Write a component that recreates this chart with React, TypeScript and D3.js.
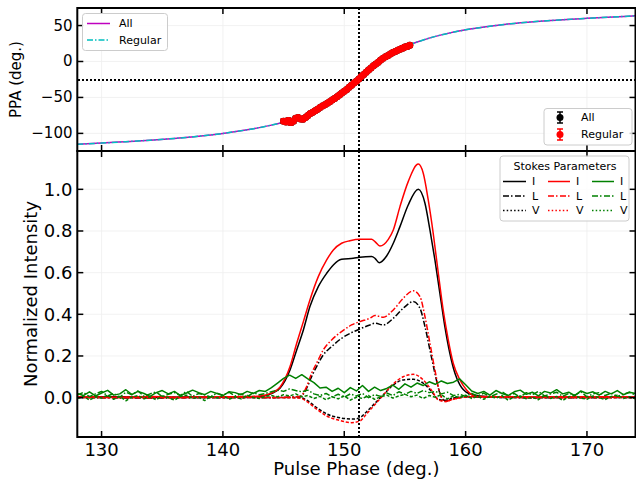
import React from 'react';
import * as d3 from 'd3';

// ---------- axes / ticks ----------
const X_DOMAIN: [number, number] = [128, 174];
const X_TICKS = [130, 140, 150, 160, 170];
const PPA_DOMAIN: [number, number] = [-124.5, 74.4];
const PPA_TICKS = [-100, -50, 0, 50];
const INT_DOMAIN: [number, number] = [-0.189, 1.184];
const INT_TICKS = [0.0, 0.2, 0.4, 0.6, 0.8, 1.0];
const REF_PHASE = 151.2;
const REF_PPA = -26;

// ---------- top panel: PPA ----------
const RVM_FIT_ALL: [number, number][] = [
  [128, -115], [130, -113.5], [132, -111.5], [134, -109.5], [136, -107], [138, -104],
  [140, -100], [142, -95], [143, -92], [144, -88.5], [145, -84.5], [146, -80],
  [147, -73.5], [148, -65], [149, -54], [150, -42], [151, -27.5], [152, -12],
  [153, 2], [154, 13], [155, 20.5], [156, 27], [157, 32.5], [158, 37], [160, 44],
  [162, 49], [164, 53], [167, 57], [170, 60], [174, 63.5],
];
const RVM_FIT_REGULAR: [number, number][] = [
  [128, -115], [130, -113.5], [132, -111.5], [134, -109.5], [136, -107], [138, -104],
  [140, -100], [142, -95], [143, -92], [144, -88.5], [145, -84.5], [146, -80],
  [147, -73.5], [148, -65], [149, -54], [150, -42], [151, -27.5], [152, -12],
  [153, 2], [154, 13], [155, 20.5], [156, 27], [157, 32.5], [158, 37], [160, 44],
  [162, 49], [164, 53], [167, 57], [170, 60], [174, 63.5],
];

const PPA_PHASE = [
  145.0, 145.2, 145.4, 145.6, 145.8, 146.0, 146.2, 146.4, 146.6, 146.8,
  147.0, 147.2, 147.4, 147.6, 147.8, 148.0, 148.2, 148.4, 148.6, 148.8,
  149.0, 149.2, 149.4, 149.6, 149.8, 150.0, 150.2, 150.4, 150.6, 150.8,
  151.0, 151.2, 151.4, 151.6, 151.8, 152.0, 152.2, 152.4, 152.6, 152.8,
  153.0, 153.2, 153.4, 153.6, 153.8, 154.0, 154.2, 154.4, 154.6, 154.8,
  155.0, 155.2, 155.4,
];
const PPA_VALUES = [
  -83, -84, -82, -85, -83, -79, -78, -80, -80.5, -78,
  -75, -72.5, -70.5, -68.5, -66.5, -64, -62, -60, -58, -56,
  -53.5, -51.5, -49, -46.5, -44, -41.5, -39, -36, -33, -30,
  -27.5, -24.5, -21, -18, -15, -12, -9, -6, -3.5, -1,
  2, 4.5, 6.5, 8.5, 10.5, 12.5, 14, 15.5, 17, 18.5,
  20, 21, 22.5,
];
const PPA_ERRORS = [
  3, 3, 3, 3, 3, 2.5, 2.5, 2.5, 2.5, 2.5,
  2, 2, 2, 2, 2, 2, 2, 2, 2, 2,
  1.5, 1.5, 1.5, 1.5, 1.5, 1.5, 1.5, 1.5, 1.5, 1.5,
  1.5, 1.5, 1.5, 1.5, 1.5, 1.5, 1.5, 1.5, 1.5, 1.5,
  1.5, 1.5, 1.5, 2, 2, 2, 2, 2, 2, 2.5,
  2.5, 2.5, 2.5,
];

// ---------- bottom panel: Stokes profiles ----------
const I_ALL: [number, number][] = [
  [128, 0.002], [131, 0.004], [134, 0.001], [137, 0.003], [140, 0.002], [142, 0.004],
  [143.06, 0.006], [144, 0.02], [144.7, 0.045], [145.53, 0.133], [146.08, 0.229],
  [146.63, 0.325], [147.17, 0.437], [147.86, 0.533], [148.55, 0.597], [149.1, 0.637],
  [149.78, 0.664], [150.74, 0.669], [151.29, 0.674], [152.25, 0.677], [152.53, 0.669],
  [152.88, 0.648], [153.49, 0.68], [154.04, 0.741], [154.59, 0.821], [155.27, 0.925],
  [156.1, 1.0], [156.65, 0.933], [157.06, 0.805], [157.47, 0.661], [157.88, 0.501],
  [158.29, 0.341], [158.7, 0.213], [159.12, 0.117], [159.53, 0.061], [160.22, 0.021],
  [161.17, 0.008], [163, 0.003], [166, 0.002], [170, 0.003], [174, 0.002],
];
const L_ALL: [number, number][] = [
  [128, 0.001], [134, -0.002], [140, 0.001], [144, 0.0], [146.35, 0.005], [146.9, 0.045],
  [147.31, 0.101], [147.72, 0.149], [148.27, 0.205], [148.96, 0.245], [149.78, 0.285],
  [150.6, 0.312], [151.29, 0.33], [152.11, 0.349], [152.53, 0.357], [153.22, 0.349],
  [154.04, 0.381], [154.86, 0.429], [155.69, 0.461], [156.24, 0.429], [156.65, 0.341],
  [157.06, 0.229], [157.47, 0.117], [157.88, 0.021], [158.29, -0.014], [158.98, -0.003],
  [160.08, 0.004], [163, 0.001], [168, -0.001], [174, 0.001],
];
const V_ALL: [number, number][] = [
  [128, 0.0], [134, 0.002], [140, -0.001], [144, 0.001], [146.35, 0.0], [146.9, -0.012],
  [147.72, -0.048], [148.55, -0.078], [149.64, -0.097], [150.74, -0.103], [151.29, -0.096],
  [151.84, -0.068], [152.53, -0.027], [153.22, 0.013], [154.04, 0.061], [154.86, 0.085],
  [155.69, 0.088], [156.51, 0.069], [157.2, 0.029], [157.75, -0.008], [158.29, -0.014],
  [158.98, -0.003], [160.08, 0.003], [165, 0.0], [174, 0.001],
];
const I_REG: [number, number][] = [
  [128, 0.004], [131, 0.002], [134, 0.005], [137, 0.002], [140, 0.004], [142, 0.005],
  [143.06, 0.008], [144, 0.022], [144.7, 0.05], [145.53, 0.149], [146.08, 0.261],
  [146.63, 0.365], [147.17, 0.469], [147.86, 0.581], [148.55, 0.661], [149.1, 0.709],
  [149.78, 0.741], [150.46, 0.753], [151.29, 0.76], [152.25, 0.76], [152.53, 0.749],
  [152.94, 0.728], [153.63, 0.76], [154.04, 0.805], [154.59, 0.917], [155.27, 1.037],
  [156.1, 1.121], [156.51, 1.077], [156.92, 0.949], [157.33, 0.789], [157.75, 0.597],
  [158.15, 0.421], [158.57, 0.277], [158.98, 0.165], [159.53, 0.085], [160.08, 0.037],
  [160.9, 0.005], [163, 0.004], [166, 0.003], [170, 0.004], [174, 0.003],
];
const L_REG: [number, number][] = [
  [128, 0.002], [134, 0.0], [140, 0.002], [144, 0.001], [146.35, 0.005], [146.9, 0.053],
  [147.31, 0.117], [147.72, 0.165], [148.27, 0.229], [148.96, 0.277], [149.78, 0.317],
  [150.6, 0.349], [151.29, 0.365], [152.11, 0.381], [152.53, 0.394], [153.22, 0.386],
  [154.04, 0.421], [154.86, 0.477], [155.69, 0.513], [156.24, 0.485], [156.65, 0.389],
  [157.06, 0.261], [157.47, 0.133], [157.88, 0.021], [158.29, -0.019], [158.98, -0.008],
  [160.08, 0.004], [163, 0.002], [168, 0.0], [174, 0.002],
];
const V_REG: [number, number][] = [
  [128, 0.001], [134, -0.001], [140, 0.001], [144, 0.0], [146.35, -0.002], [146.9, -0.018],
  [147.72, -0.055], [148.55, -0.088], [149.64, -0.11], [150.6, -0.12], [151.29, -0.112],
  [151.84, -0.078], [152.53, -0.033], [153.22, 0.013], [154.04, 0.066], [154.86, 0.1],
  [155.69, 0.112], [156.51, 0.085], [157.2, 0.035], [157.75, -0.011], [158.29, -0.019],
  [158.98, -0.008], [160.08, 0.003], [165, 0.001], [174, 0.0],
];

// third (green) profile, sampled every 0.5 deg from 128 deg
const G_PHASE_START = 128;
const G_PHASE_STEP = 0.5;
const I_OTHER = [
  0.020, 0.010, 0.028, 0.008, 0.022, 0.035, 0.012, 0.018, 0.038, 0.015,
  0.030, 0.020, 0.006, 0.024, 0.034, 0.018, 0.030, 0.010, 0.022, 0.036,
  0.024, 0.014, 0.030, 0.020, 0.010, 0.028, 0.024, 0.014, 0.030, 0.020,
  0.034,
  0.030, 0.048, 0.070, 0.092, 0.108, 0.092, 0.110, 0.090, 0.072, 0.046,
  0.050, 0.030, 0.045, 0.024, 0.048, 0.032, 0.058, 0.030, 0.050, 0.034,
  0.044, 0.060, 0.040, 0.066, 0.050, 0.070, 0.058, 0.076, 0.064, 0.080,
  0.068, 0.074, 0.090, 0.062, 0.032, 0.020,
  0.030, 0.012, 0.034, 0.020, 0.010, 0.028, 0.036, 0.016, 0.026, 0.008,
  0.030, 0.022, 0.038, 0.018, 0.026, 0.010, 0.032, 0.020, 0.028, 0.012,
  0.030, 0.018, 0.034, 0.014, 0.026, 0.020,
];
const L_OTHER = [
  0.012, 0.025, 0.005, 0.018, 0.030, 0.008, 0.020, 0.002, 0.026, 0.014,
  0.032, 0.006, 0.018, 0.028, 0.004, 0.016, 0.024, 0.010, 0.030, 0.006,
  0.020, 0.014, 0.002, 0.022, 0.012, 0.026, 0.008, 0.018, 0.004, 0.024,
  0.014,
  0.020, 0.028, 0.036, 0.030, 0.042, 0.034, 0.028, 0.036, 0.018, 0.010,
  0.020, 0.004, 0.016, 0.002, 0.018, 0.008, 0.020, 0.000, 0.014, 0.006,
  0.022, 0.010, 0.028, 0.016, 0.030, 0.020, 0.034, 0.024, 0.030, 0.018,
  0.026, 0.010, 0.016, 0.006, 0.020, 0.008,
  0.022, 0.004, 0.016, 0.028, 0.010, 0.020, 0.002, 0.024, 0.014, 0.030,
  0.008, 0.018, 0.026, 0.006, 0.020, 0.012, 0.028, 0.004, 0.018, 0.024,
  0.010, 0.022, 0.006, 0.016, 0.026, 0.012,
];
const V_OTHER = [
  -0.005, 0.008, -0.012, 0.004, -0.002, 0.012, -0.008, 0.006, -0.015, 0.002,
  0.010, -0.006, 0.004, -0.010, 0.008, 0.000, -0.012, 0.006, 0.012, -0.004,
  0.002, -0.014, 0.008, -0.002, 0.010, -0.008, 0.004, -0.006, 0.012, 0.000,
  -0.004,
  0.006, 0.010, 0.004, 0.014, 0.008, 0.018, 0.004, 0.010, -0.004, 0.006,
  -0.010, 0.004, -0.006, 0.008, -0.012, 0.002, -0.004, 0.010, -0.008, 0.004,
  0.012, -0.002, 0.008, 0.016, 0.004, 0.012, -0.004, 0.010, 0.002, 0.014,
  -0.006, 0.008, 0.000, 0.012, -0.004, 0.006,
  -0.008, 0.006, -0.002, 0.010, -0.012, 0.004, 0.008, -0.006, 0.002, -0.010,
  0.012, -0.004, 0.006, -0.014, 0.004, 0.010, -0.002, -0.008, 0.008, 0.000,
  -0.010, 0.006, 0.012, -0.004, 0.004, -0.006,
];

// ---------- layout ----------
const W = 636;
const H = 485;
const LEFT = 77.3;
const RIGHT = 635.5;
const TOP1 = 8;
const BOT1 = 151;
const TOP2 = 151;
const BOT2 = 437;
const FONT = 'DejaVu Sans, sans-serif';

const BLACK = '#000000';
const RED = '#ff0000';
const GREEN = '#008000';
const MAGENTA = '#bf00bf';
const CYAN = '#00bfbf';

const DASHDOT = '6,2,1.5,2';
const DOTTED_V = '3.2,1.8';
const DOTTED_REF = '2,2';

export default function App() {
  const x = d3.scaleLinear().domain(X_DOMAIN).range([LEFT, RIGHT]);
  const yP = d3.scaleLinear().domain(PPA_DOMAIN).range([BOT1, TOP1]);
  const yI = d3.scaleLinear().domain(INT_DOMAIN).range([BOT2, TOP2]);

  const lineP = d3.line<[number, number]>().x(d => x(d[0])).y(d => yP(d[1])).curve(d3.curveMonotoneX);
  const lineI = d3.line<[number, number]>().x(d => x(d[0])).y(d => yI(d[1])).curve(d3.curveMonotoneX);
  const lineG = d3.line<[number, number]>().x(d => x(d[0])).y(d => yI(d[1]));

  const toPairs = (vals: number[]): [number, number][] =>
    vals.map((v, i) => [G_PHASE_START + i * G_PHASE_STEP, v]);

  const stokes = [
    { data: I_ALL, color: BLACK, dash: undefined as string | undefined },
    { data: L_ALL, color: BLACK, dash: DASHDOT },
    { data: V_ALL, color: BLACK, dash: DOTTED_V },
    { data: I_REG, color: RED, dash: undefined },
    { data: L_REG, color: RED, dash: DASHDOT },
    { data: V_REG, color: RED, dash: DOTTED_V },
  ];
  const others = [
    { data: toPairs(I_OTHER), dash: undefined as string | undefined },
    { data: toPairs(L_OTHER), dash: DASHDOT },
    { data: toPairs(V_OTHER), dash: DOTTED_V },
  ];

  const errPoints = (color: string, key: string) =>
    PPA_PHASE.map((p, i) => {
      const cx = x(p);
      const cy = yP(PPA_VALUES[i]);
      const y0 = yP(PPA_VALUES[i] - PPA_ERRORS[i]);
      const y1 = yP(PPA_VALUES[i] + PPA_ERRORS[i]);
      return (
        <g key={key + i}>
          <line x1={cx} x2={cx} y1={y0} y2={y1} stroke={color} strokeWidth={1.5} />
          <line x1={cx - 3} x2={cx + 3} y1={y0} y2={y0} stroke={color} strokeWidth={1.5} />
          <line x1={cx - 3} x2={cx + 3} y1={y1} y2={y1} stroke={color} strokeWidth={1.5} />
          <circle cx={cx} cy={cy} r={3.5} fill={color} />
        </g>
      );
    });

  const refY = Math.round(yP(REF_PPA));
  const refX = Math.round(x(REF_PHASE));

  const legendRows = [181.5, 196, 210.5];
  const legendCols = [
    { x0: 503, x1: 526, lx: 532, color: BLACK },
    { x0: 548, x1: 570, lx: 576, color: RED },
    { x0: 592, x1: 614, lx: 620, color: GREEN },
  ];
  const legendStyles = [
    { dash: undefined as string | undefined, label: 'I' },
    { dash: '6,2,1.5,2.5', label: 'L' },
    { dash: '1.5,2.2', label: 'V' },
  ];

  return (
    <svg width={W} height={H} style={{ position: 'absolute', left: 0, top: 0, background: '#fff' }}
      fontFamily={FONT}>
      <defs>
        <clipPath id="clipTop"><rect x={LEFT} y={TOP1} width={RIGHT - LEFT} height={BOT1 - TOP1} /></clipPath>
        <clipPath id="clipBot"><rect x={LEFT} y={TOP2} width={RIGHT - LEFT} height={BOT2 - TOP2} /></clipPath>
      </defs>
      <rect x={0} y={0} width={W} height={H} fill="#fff" />

      {/* grids */}
      <g stroke="#efefef" strokeWidth={0.8}>
        {X_TICKS.map(t => <line key={'gx1' + t} x1={x(t)} x2={x(t)} y1={TOP1} y2={BOT1} />)}
        {X_TICKS.map(t => <line key={'gx2' + t} x1={x(t)} x2={x(t)} y1={TOP2} y2={BOT2} />)}
        {PPA_TICKS.map(t => <line key={'gp' + t} x1={LEFT} x2={RIGHT} y1={yP(t)} y2={yP(t)} />)}
        {INT_TICKS.map(t => <line key={'gi' + t} x1={LEFT} x2={RIGHT} y1={yI(t)} y2={yI(t)} />)}
      </g>

      {/* top panel */}
      <g clipPath="url(#clipTop)">
        <line x1={78} x2={RIGHT} y1={refY} y2={refY} stroke={BLACK} strokeWidth={2} strokeDasharray={DOTTED_REF} shapeRendering="crispEdges" />
        <line x1={refX} x2={refX} y1={TOP1} y2={BOT1} stroke={BLACK} strokeWidth={2} strokeDasharray={DOTTED_REF} shapeRendering="crispEdges" />
        <path d={lineP(RVM_FIT_ALL) || ''} fill="none" stroke={MAGENTA} strokeWidth={1.5} />
        <path d={lineP(RVM_FIT_REGULAR) || ''} fill="none" stroke={CYAN} strokeWidth={1.5} strokeDasharray={DASHDOT} />
        {errPoints(BLACK, 'a')}
        {errPoints(RED, 'r')}
      </g>

      {/* bottom panel */}
      <g clipPath="url(#clipBot)">
        <line x1={refX} x2={refX} y1={TOP2} y2={BOT2} stroke={BLACK} strokeWidth={2} strokeDasharray={DOTTED_REF} shapeRendering="crispEdges" />
        {stokes.map((s, i) => (
          <path key={'s' + i} d={lineI(s.data) || ''} fill="none" stroke={s.color} strokeWidth={1.5}
            strokeDasharray={s.dash} />
        ))}
        {others.map((s, i) => (
          <path key={'o' + i} d={lineG(s.data) || ''} fill="none" stroke={GREEN} strokeWidth={1.5}
            strokeDasharray={s.dash} strokeLinejoin="round" />
        ))}
      </g>

      {/* ticks */}
      <g stroke={BLACK} strokeWidth={1.5}>
        {X_TICKS.map(t => (
          <g key={'tx' + t}>
            <line x1={x(t)} x2={x(t)} y1={TOP1} y2={TOP1 + 6} />
            <line x1={x(t)} x2={x(t)} y1={BOT1} y2={BOT1 - 6} />
            <line x1={x(t)} x2={x(t)} y1={TOP2} y2={TOP2 + 6} />
            <line x1={x(t)} x2={x(t)} y1={BOT2} y2={BOT2 - 6} />
          </g>
        ))}
        {PPA_TICKS.map(t => (
          <g key={'tp' + t}>
            <line x1={LEFT} x2={LEFT + 6} y1={yP(t)} y2={yP(t)} />
            <line x1={RIGHT} x2={RIGHT - 6} y1={yP(t)} y2={yP(t)} />
          </g>
        ))}
        {INT_TICKS.map(t => (
          <g key={'ti' + t}>
            <line x1={LEFT} x2={LEFT + 6} y1={yI(t)} y2={yI(t)} />
            <line x1={RIGHT} x2={RIGHT - 6} y1={yI(t)} y2={yI(t)} />
          </g>
        ))}
      </g>

      {/* frames */}
      <rect x={LEFT} y={TOP1} width={RIGHT - LEFT} height={BOT1 - TOP1} fill="none" stroke={BLACK} strokeWidth={2} />
      <rect x={LEFT} y={TOP2} width={RIGHT - LEFT} height={BOT2 - TOP2} fill="none" stroke={BLACK} strokeWidth={2} />

      {/* tick labels */}
      <g fill={BLACK}>
        {PPA_TICKS.map(t => (
          <text key={'lp' + t} x={72.5} y={yP(t)} fontSize={15} textAnchor="end" dominantBaseline="central">
            {t < 0 ? '\u2212' + Math.abs(t) : String(t)}
          </text>
        ))}
        {INT_TICKS.map(t => (
          <text key={'li' + t} x={72.5} y={yI(t)} fontSize={18} textAnchor="end" dominantBaseline="central">
            {t.toFixed(1)}
          </text>
        ))}
        {X_TICKS.map(t => (
          <text key={'lx' + t} x={x(t)} y={456} fontSize={18} textAnchor="middle">{t}</text>
        ))}
        <text x={(LEFT + RIGHT) / 2} y={475} fontSize={18} textAnchor="middle">Pulse Phase (deg.)</text>
        <text transform={`translate(30,${(TOP2 + BOT2) / 2}) rotate(-90)`} fontSize={18} textAnchor="middle"
          dominantBaseline="central">Normalized Intensity</text>
        <text transform={`translate(16,${(TOP1 + BOT1) / 2}) rotate(-90)`} fontSize={15} textAnchor="middle"
          dominantBaseline="central">PPA (deg.)</text>
      </g>

      {/* top-left legend */}
      <g>
        <rect x={82.5} y={13.5} width={85} height={37} rx={3} fill="#fff" fillOpacity={0.8} stroke="#cccccc" strokeWidth={1} />
        <line x1={87} x2={110} y1={23.5} y2={23.5} stroke={MAGENTA} strokeWidth={1.5} />
        <line x1={87} x2={110} y1={40} y2={40} stroke={CYAN} strokeWidth={1.5} strokeDasharray={DASHDOT} />
        <text x={119} y={23.5} fontSize={11} dominantBaseline="central">All</text>
        <text x={119} y={40} fontSize={11} dominantBaseline="central">Regular</text>
      </g>

      {/* top-right legend */}
      <g>
        <rect x={544} y={108.5} width={88} height={36.5} rx={3} fill="#fff" fillOpacity={0.8} stroke="#cccccc" strokeWidth={1} />
        {[{ y: 117.5, c: BLACK, t: 'All' }, { y: 134.5, c: RED, t: 'Regular' }].map(e => (
          <g key={e.t}>
            <line x1={560} x2={560} y1={e.y - 5.5} y2={e.y + 5.5} stroke={e.c} strokeWidth={1.5} />
            <line x1={557} x2={563} y1={e.y - 5.5} y2={e.y - 5.5} stroke={e.c} strokeWidth={1.5} />
            <line x1={557} x2={563} y1={e.y + 5.5} y2={e.y + 5.5} stroke={e.c} strokeWidth={1.5} />
            <circle cx={560} cy={e.y} r={3.5} fill={e.c} />
            <text x={581} y={e.y} fontSize={11} dominantBaseline="central">{e.t}</text>
          </g>
        ))}
      </g>

      {/* stokes legend */}
      <g>
        <rect x={500} y={156} width={129} height={65} rx={3} fill="#fff" fillOpacity={0.8} stroke="#cccccc" strokeWidth={1} />
        <text x={565} y={166} fontSize={11} textAnchor="middle" dominantBaseline="central">Stokes Parameters</text>
        {legendCols.map((c, ci) =>
          legendStyles.map((s, si) => (
            <g key={'lg' + ci + si}>
              <line x1={c.x0} x2={c.x1} y1={legendRows[si]} y2={legendRows[si]} stroke={c.color}
                strokeWidth={1.5} strokeDasharray={s.dash} />
              <text x={c.lx} y={legendRows[si]} fontSize={11} dominantBaseline="central">{s.label}</text>
            </g>
          ))
        )}
      </g>
    </svg>
  );
}
